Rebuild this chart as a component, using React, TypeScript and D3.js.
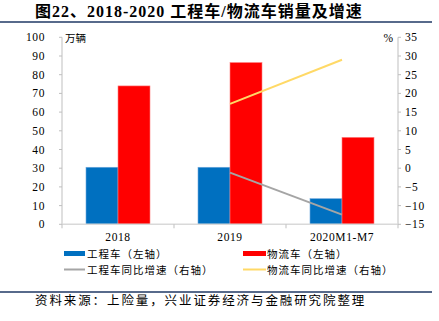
import React from "react";
import * as d3 from "d3";

const categories = ["2018", "2019", "2020M1-M7"];
const engVol = [30.5, 30.5, 13.7];
const logVol = [74, 86.5, 46.5];
const engGrowth: (number | null)[] = [null, -1.2, -12.4];
const logGrowth: (number | null)[] = [null, 17.2, 29];
const leftTicks = [0, 10, 20, 30, 40, 50, 60, 70, 80, 90, 100];
const rightTicks = [-15, -10, -5, 0, 5, 10, 15, 20, 25, 30, 35];

const W = 439, H = 321;
const L = 62, R = 398, T = 37.3, B = 224.3;
const serif = "'Liberation Serif', 'Times New Roman', serif";
const cjk = "'Noto Sans CJK SC', sans-serif";
const mixed = "'Liberation Serif', 'Noto Sans CJK SC', serif";

export default function App() {
  const x = d3.scaleBand<string>().domain(categories).range([L, R]);
  const yL = d3.scaleLinear().domain([0, 100]).range([B, T]);
  const yR = d3.scaleLinear().domain([-15, 35]).range([B, T]);
  const bw = 32;
  const cx = (c: string) => (x(c) as number) + x.bandwidth() / 2;

  const mkLine = (vals: (number | null)[]) =>
    d3.line<number | null>()
      .defined((d) => d !== null)
      .x((_, i) => cx(categories[i]))
      .y((d) => yR(d as number))(vals) as string;

  const legendStyle = { fontFamily: cjk, fontSize: 10.5, letterSpacing: 1 };

  return (
    <svg width={W} height={H} style={{ position: "absolute", left: 0, top: 0, background: "#fff" }}>
      <text x={35} y={17} fontFamily={mixed} fontWeight="bold" fontSize={16} letterSpacing={1} fill="#000">
        图22、2018-2020 工程车/物流车销量及增速
      </text>
      <line x1={0} x2={432} y1={22} y2={22} stroke="#1F3864" strokeWidth={1.5} />

      {/* bars */}
      {categories.map((c, i) => (
        <g key={c}>
          <rect x={cx(c) - bw} y={yL(engVol[i])} width={bw} height={B - yL(engVol[i])} fill="#0070C0" stroke="#6FA8DC" strokeWidth={0.6} />
          <rect x={cx(c)} y={yL(logVol[i])} width={bw} height={B - yL(logVol[i])} fill="#FF0000" stroke="#FF8080" strokeWidth={0.6} />
        </g>
      ))}

      {/* lines */}
      <path d={mkLine(engGrowth)} fill="none" stroke="#A5A5A5" strokeWidth={2} />
      <path d={mkLine(logGrowth)} fill="none" stroke="#FFD966" strokeWidth={2} />

      {/* left axis */}
      <line x1={L} x2={L} y1={T} y2={B} stroke="#BFBFBF" />
      {leftTicks.map((t) => (
        <g key={"l" + t}>
          <line x1={L - 3} x2={L} y1={yL(t)} y2={yL(t)} stroke="#BFBFBF" />
          <text x={45} y={yL(t) + 4} textAnchor="end" fontFamily={serif} fontSize={11.5} letterSpacing={0.6} fill="#000">{t}</text>
        </g>
      ))}
      <text x={65} y={42} fontFamily={cjk} fontSize={10.5} fill="#000">万辆</text>

      {/* right axis */}
      <line x1={R} x2={R} y1={T} y2={B} stroke="#BFBFBF" />
      {rightTicks.map((t) => (
        <g key={"r" + t}>
          <line x1={R} x2={R + 3} y1={yR(t)} y2={yR(t)} stroke="#BFBFBF" />
          <text x={405} y={yR(t) + 4} fontFamily={serif} fontSize={11.5} letterSpacing={0.6} fill="#000">{t < 0 ? "−" + Math.abs(t) : t}</text>
        </g>
      ))}
      <text x={393} y={42} textAnchor="end" fontFamily={serif} fontSize={11.5} fill="#000">%</text>

      {/* x axis */}
      <line x1={L} x2={R} y1={B} y2={B} stroke="#D9D9D9" strokeWidth={1.5} />
      {[L, ...categories.map((c) => (x(c) as number) + x.bandwidth())].map((v, i) => (
        <line key={"xt" + i} x1={v} x2={v} y1={B} y2={B + 4} stroke="#BFBFBF" />
      ))}
      {categories.map((c) => (
        <text key={"xl" + c} x={cx(c)} y={241} textAnchor="middle" fontFamily={serif} fontSize={11.5} letterSpacing={0.6} fill="#000">{c}</text>
      ))}

      {/* legend */}
      <rect x={64} y={251} width={21} height={5} fill="#0070C0" />
      <text x={87} y={258} {...legendStyle} fill="#000">工程车（左轴）</text>
      <rect x={243} y={251} width={23} height={5} fill="#FF0000" />
      <text x={267} y={258} {...legendStyle} fill="#000">物流车（左轴）</text>
      <line x1={64} x2={85} y1={269.5} y2={269.5} stroke="#A5A5A5" strokeWidth={2} />
      <text x={87} y={273.5} {...legendStyle} fill="#000">工程车同比增速（右轴）</text>
      <line x1={243} x2={266} y1={269.5} y2={269.5} stroke="#FFD966" strokeWidth={2} />
      <text x={267} y={273.5} {...legendStyle} fill="#000">物流车同比增速（右轴）</text>

      {/* footer */}
      <line x1={0} x2={432} y1={292} y2={292} stroke="#1F3864" strokeWidth={1.5} />
      <text x={35} y={305} fontFamily={cjk} fontSize={12.5} letterSpacing={1.9} fill="#000">资料来源：上险量，兴业证券经济与金融研究院整理</text>
    </svg>
  );
}
